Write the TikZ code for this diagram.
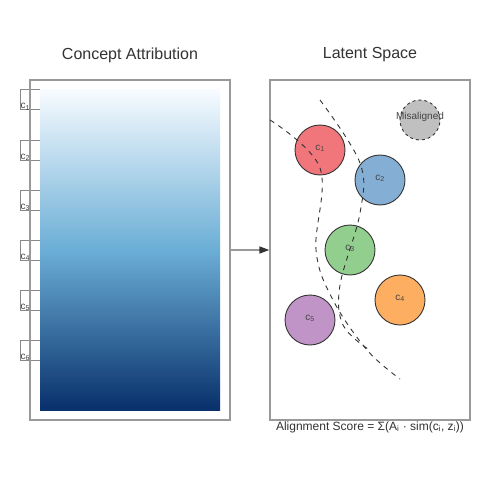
\documentclass[tikz,border=0pt]{standalone}
\usepackage{fontspec}
\setmainfont{Liberation Sans}
\usetikzlibrary{arrows.meta}
\definecolor{boxgray}{HTML}{999999}
\definecolor{tabgray}{HTML}{888888}
\definecolor{ink}{HTML}{333333}
\definecolor{lblink}{HTML}{444444}
\definecolor{cred}{HTML}{F0767B}
\definecolor{cblue}{HTML}{85AED4}
\definecolor{cgreen}{HTML}{92CE8E}
\definecolor{corange}{HTML}{FEAE61}
\definecolor{cpurple}{HTML}{C194C7}
\definecolor{cgray}{HTML}{C0C0C0}
\definecolor{btop}{HTML}{F7FBFF}
\definecolor{bmid}{HTML}{6BAED6}
\definecolor{bbot}{HTML}{08306B}
\tikzset{
  panel/.style={draw=boxgray, line width=1.3pt, rectangle, inner sep=0pt, minimum width=200pt, minimum height=340pt},
  tabbox/.style={draw=tabgray, line width=1pt, rectangle, inner sep=0pt, minimum width=20pt, minimum height=20pt},
  tablbl/.style={anchor=base west, inner sep=0pt, text=lblink, font=\fontsize{10}{12}\selectfont},
  title/.style={text=ink, font=\fontsize{16}{19}\selectfont, inner sep=0pt},
  concept/.style={circle, draw=ink, line width=0.9pt, minimum size=50pt, inner sep=0pt},
  clbl/.style={anchor=base, inner sep=0pt, text=lblink, font=\fontsize{10}{12}\selectfont},
  dashcurve/.style={draw=ink, line width=0.9pt, dash pattern=on 5pt off 5pt},
  flow/.style={draw=boxgray, line width=1.3pt, -{Triangle[length=10pt,width=7pt,color=ink]}},
}
\begin{document}
\begin{tikzpicture}[x=1pt,y=-1pt]
\useasboundingbox (0,0) rectangle (500,500);
\fill[white] (0,0) rectangle (500,500);
% titles
\node[title] (t1) at (130,55) {Concept Attribution};
\node[title] (t2) at (370,55) {Latent Space};
% tabs
\foreach \i/\y in {1/100,2/150,3/200,4/250,5/300,6/350}{
  \node[tabbox] (tab\i) at (30,\y) {};
}
% left panel
\node[panel] (left) at (130,250) {};
\shade[top color=btop, bottom color=bbot, middle color=bmid] (40,90) rectangle (220,410);
\foreach \i/\y in {1/109,2/159,3/209,4/259,5/309,6/359}{
  \node[tablbl] (tl\i) at (20.5,\y) {c\textsubscript{\i}};
}
% right panel
\node[panel] (right) at (370,250) {};
% arrow
\draw[flow] (left.east) -- (right.west);
% circles
\node[concept, fill=cred] (z1) at (320,150) {};
\node[concept, fill=cblue] (z2) at (380,180) {};
\node[concept, fill=cgreen] (z3) at (350,250) {};
\node[concept, fill=corange] (z4) at (400,300) {};
\node[concept, fill=cpurple] (z5) at (310,320) {};
\node[circle, draw=ink, line width=0.9pt, dash pattern=on 3pt off 3pt, fill=cgray, minimum size=40pt, inner sep=0pt] (mis) at (420,120) {};
% dashed boundaries
\draw[dashcurve] plot[smooth, tension=0.6] coordinates {(270,120) (320,168) (316,250) (333,300) (367,350) (400,379)};
\draw[dashcurve] plot[smooth, tension=0.6] coordinates {(320,100) (360,163) (360,213) (340,285) (343,325) (368,349)};
% labels
\node[clbl] (l1) at (z1.center) {c\textsubscript{1}};
\node[clbl] (l2) at (z2.center) {c\textsubscript{2}};
\node[clbl] (l3) at (z3.center) {c\textsubscript{3}};
\node[clbl] (l4) at (z4.center) {c\textsubscript{4}};
\node[clbl] (l5) at (z5.center) {c\textsubscript{5}};
\node[clbl] (lm) at (mis.center) {Misaligned};
\node[anchor=base, inner sep=0pt, text=ink, font=\fontsize{12}{14}\selectfont] (score) at (370,430) {Alignment Score = Σ(A\textsubscript{i} · sim(c\textsubscript{i}, z\textsubscript{i}))};
\end{tikzpicture}
\end{document}
